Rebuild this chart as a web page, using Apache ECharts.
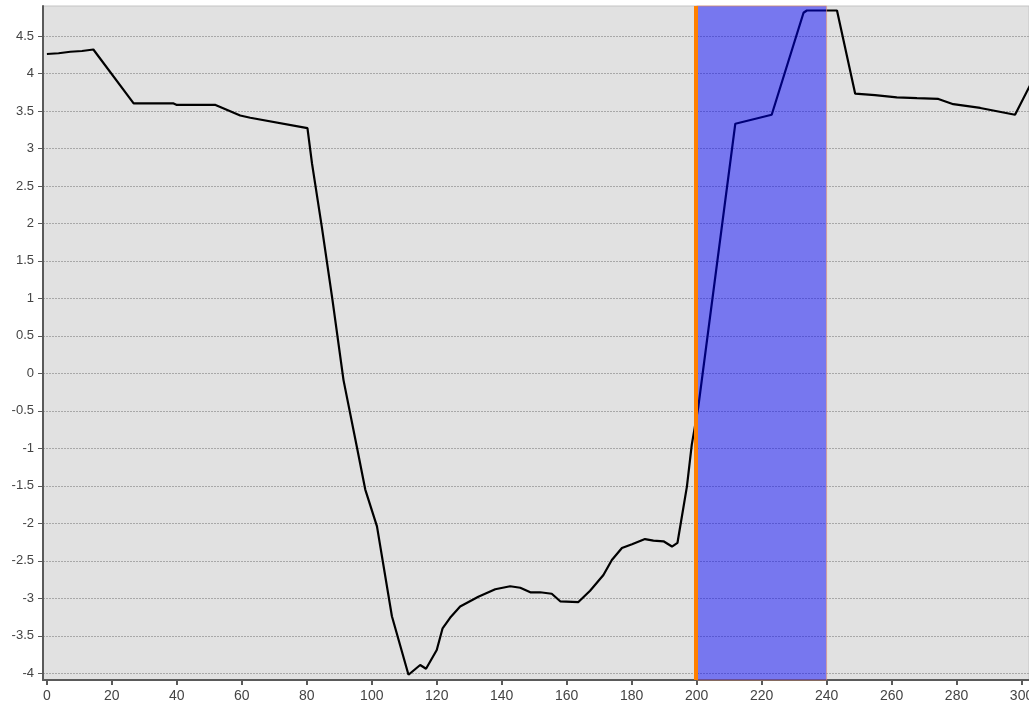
<!DOCTYPE html>
<html>
<head>
<meta charset="utf-8">
<script src="https://cdn.jsdelivr.net/npm/echarts@6/dist/echarts.min.js"></script>
<style>
html,body{margin:0;padding:0;background:#fff;}
#chart{width:1029px;height:704px;}
</style>
</head>
<body>
<div id="chart"></div>
<script>
// ---- data ----
const xValues = [0, 3.6, 7.2, 10.8, 14.3, 26.7, 39.0, 40.0, 47.2, 51.9, 59.5, 62.6, 80.2, 81.6, 84.6, 87.9, 91.3, 95.4, 98.0, 101.6, 106.2, 111.3, 114.9, 116.7, 120.0, 121.8, 124.1, 127.2, 132.8, 138.0, 142.6, 145.7, 148.8, 151.8, 155.4, 158.0, 163.6, 167.2, 171.3, 173.9, 177.0, 180.1, 184.1, 186.7, 189.8, 192.4, 194.1, 197.0, 198.5, 200.5, 211.9, 223.1, 232.9, 233.9, 243.2, 248.8, 254.9, 261.6, 267.8, 274.4, 279.0, 287.3, 298.0, 304.5];
const yValues = [4.26, 4.27, 4.29, 4.30, 4.32, 3.60, 3.60, 3.58, 3.58, 3.58, 3.44, 3.41, 3.27, 2.80, 1.96, 0.98, -0.09, -0.98, -1.55, -2.04, -3.24, -4.02, -3.89, -3.94, -3.69, -3.40, -3.26, -3.11, -2.98, -2.88, -2.84, -2.86, -2.92, -2.92, -2.94, -3.04, -3.05, -2.90, -2.69, -2.49, -2.33, -2.28, -2.21, -2.23, -2.24, -2.31, -2.26, -1.51, -0.95, -0.45, 3.33, 3.45, 4.81, 4.84, 4.84, 3.73, 3.71, 3.68, 3.67, 3.66, 3.59, 3.54, 3.45, 4.00];
const xTicks = [0, 20, 40, 60, 80, 100, 120, 140, 160, 180, 200, 220, 240, 260, 280, 300];
const yTicks = [-4, -3.5, -3, -2.5, -2, -1.5, -1, -0.5, 0, 0.5, 1, 1.5, 2, 2.5, 3, 3.5, 4, 4.5];
const xRange = [-1.2, 302.3];
const yRange = [-4.09, 4.9];
const bandRange = [200, 240];
const markerX = 199.6;

const lineData = xValues.map((x, i) => [x, yValues[i]]);

const chart = echarts.init(document.getElementById('chart'), null, {renderer: 'canvas'});
const fontFam = 'Liberation Sans, Arial, sans-serif';

chart.setOption({
  animation: false,
  backgroundColor: '#ffffff',
  grid: {
    left: 43, right: 0, top: 6, bottom: 24,
    outerBoundsMode: 'none', containLabel: false,
    show: true, backgroundColor: '#e1e1e1', borderColor: '#c4c4c4', borderWidth: 1
  },
  xAxis: {
    type: 'value', min: xRange[0], max: xRange[1],
    axisLine: {show: true, onZero: false, lineStyle: {color: '#5a5a5a', width: 2}},
    axisTick: {show: true, customValues: xTicks, length: 5, lineStyle: {color: '#5a5a5a', width: 2}},
    axisLabel: {customValues: xTicks, margin: 9, hideOverlap: false, color: '#444', fontSize: 14, fontFamily: fontFam},
    splitLine: {show: false}
  },
  yAxis: {
    type: 'value', min: yRange[0], max: yRange[1],
    axisLine: {show: true, onZero: false, lineStyle: {color: '#5a5a5a', width: 2}},
    axisTick: {show: true, customValues: yTicks, length: 5, lineStyle: {color: '#5a5a5a', width: 1}},
    axisLabel: {customValues: yTicks, margin: 9, color: '#444', fontSize: 13, fontFamily: fontFam},
    splitLine: {show: true, lineStyle: {color: '#a8a8a8', width: 1, type: [2, 1]}}
  },
  series: [
    {
      type: 'line', data: lineData, showSymbol: false, symbol: 'none',
      lineStyle: {color: '#000', width: 2.2}, z: 2, clip: true
    },
    {
      type: 'line', data: [], z: 5,
      markArea: {
        silent: true, z: 10,
        itemStyle: {color: 'rgba(0,0,255,0.47)', borderColor: 'rgba(240,150,110,0.6)', borderWidth: 1},
        data: [[{xAxis: bandRange[0]}, {xAxis: bandRange[1]}]]
      }
    },
    {
      type: 'line', data: [], z: 6,
      markLine: {
        silent: true, z: 12, symbol: ['none', 'none'], label: {show: false},
        lineStyle: {color: '#ff8000', width: 4, type: 'solid'},
        data: [{xAxis: markerX}]
      }
    }
  ]
});
</script>
</body>
</html>
